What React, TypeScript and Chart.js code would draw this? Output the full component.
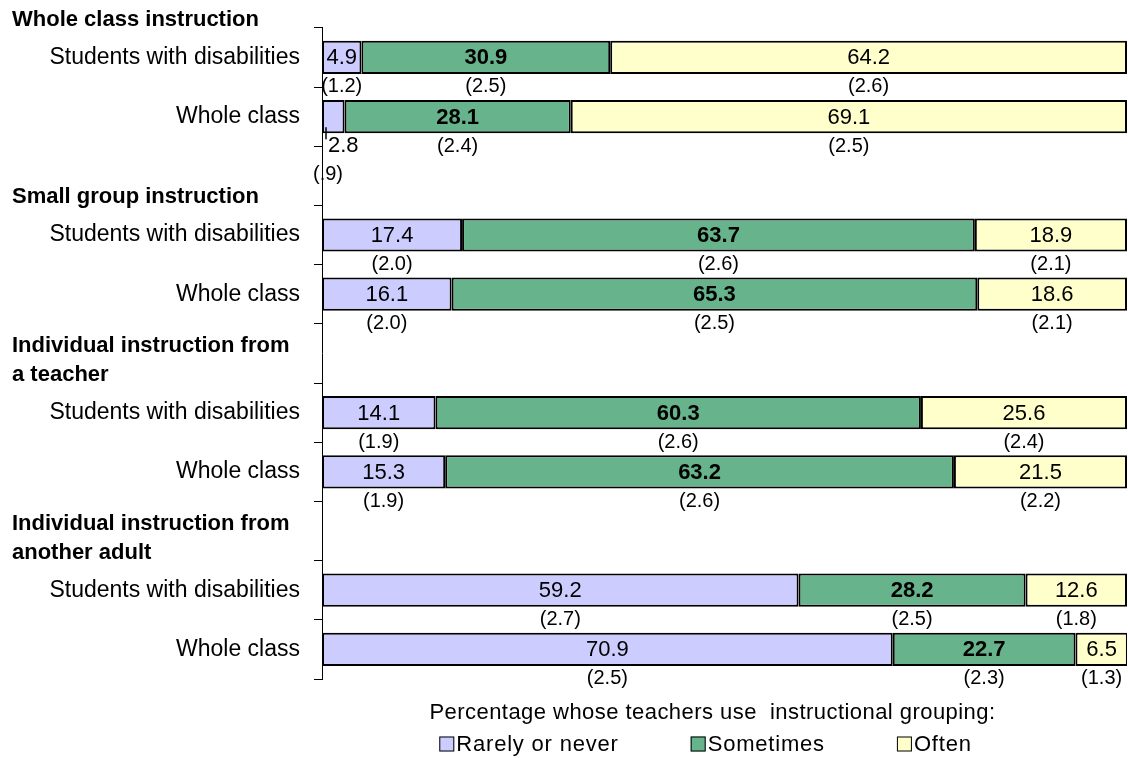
import React, { useEffect, useRef } from "react";
import { Chart, registerables } from "chart.js";

Chart.register(...registerables);

const rowLabels = [
  "Students with disabilities",
  "Whole class",
  "",
  "Students with disabilities",
  "Whole class",
  "",
  "Students with disabilities",
  "Whole class",
  "",
  "Students with disabilities",
  "Whole class",
];

const headerTexts = [
  ["Whole class instruction"],
  ["Small group instruction"],
  ["Individual instruction from", "a teacher"],
  ["Individual instruction from", "another adult"],
];
const headerSlots = [-1, 2, 5, 8];

const seriesNames = ["Rarely or never", "Sometimes", "Often"];
const rarely = [4.9, 2.8, null, 17.4, 16.1, null, 14.1, 15.3, null, 59.2, 70.9];
const sometimes = [30.9, 28.1, null, 63.7, 65.3, null, 60.3, 63.2, null, 28.2, 22.7];
const often = [64.2, 69.1, null, 18.9, 18.6, null, 25.6, 21.5, null, 12.6, 6.5];

const seRarely = ["1.2", ".9", null, "2.0", "2.0", null, "1.9", "1.9", null, "2.7", "2.5"];
const seSometimes = ["2.5", "2.4", null, "2.6", "2.5", null, "2.6", "2.6", null, "2.5", "2.3"];
const seOften = ["2.6", "2.5", null, "2.1", "2.1", null, "2.4", "2.2", null, "1.8", "1.3"];

const legendTitle = "Percentage whose teachers use  instructional grouping:";
const seriesColors = ["#CCCCFF", "#66B38C", "#FFFFCC"];

const FONT = '"Liberation Sans", Arial, sans-serif';

const seSeries = [seRarely, seSometimes, seOften];

const segLabelPlugin = {
  id: "segLabels",
  afterDatasetsDraw(chart: any) {
    const ctx = chart.ctx;
    chart.data.datasets.forEach((ds: any, di: number) => {
      const meta = chart.getDatasetMeta(di);
      meta.data.forEach((el: any, j: number) => {
        const v = ds.data[j];
        if (v == null) return;
        const { x, y, base, height } = el.getProps(["x", "y", "base", "height"], true);
        const left = Math.min(x, base);
        const right = Math.max(x, base);
        const w = right - left;
        const bottom = y + height / 2;
        const bold = di === 1;
        const txt = v.toFixed(1);
        const se = seSeries[di][j];
        ctx.save();
        ctx.fillStyle = "#000";
        ctx.textBaseline = "middle";
        ctx.font = `${bold ? "bold " : ""}22px ${FONT}`;
        const tw = ctx.measureText(txt).width;
        if (tw + 4 <= w) {
          ctx.textAlign = "center";
          ctx.fillText(txt, (left + right) / 2, y + 1);
          if (se) {
            ctx.font = `20px ${FONT}`;
            ctx.fillText(`(${se})`, (left + right) / 2, bottom + 13);
          }
        } else {
          ctx.strokeStyle = "#000";
          ctx.lineWidth = 1.5;
          ctx.beginPath();
          ctx.moveTo(left + 4, bottom - 6);
          ctx.lineTo(left + 4, bottom + 6);
          ctx.stroke();
          ctx.textAlign = "left";
          ctx.fillText(txt, left + 6, bottom + 13);
          if (se) {
            ctx.textAlign = "center";
            ctx.font = `20px ${FONT}`;
            ctx.fillText(`(${se})`, left + 6, bottom + 41);
          }
        }
        ctx.restore();
      });
    });
  },
};

const headerPlugin = {
  id: "groupHeaders",
  afterDraw(chart: any) {
    const ctx = chart.ctx;
    const ys = chart.scales.y;
    ctx.save();
    ctx.fillStyle = "#000";
    ctx.font = `bold 22px ${FONT}`;
    ctx.textAlign = "left";
    ctx.textBaseline = "alphabetic";
    headerTexts.forEach((lines, i) => {
      const s = headerSlots[i];
      const boundary = (ys.getPixelForValue(s) + ys.getPixelForValue(s + 1)) / 2;
      const n = lines.length;
      lines.forEach((line, k) => {
        ctx.fillText(line, 12, boundary - 2 - (n - 1 - k) * 29);
      });
    });
    ctx.restore();
  },
};

const legendPlugin = {
  id: "customLegend",
  afterDraw(chart: any) {
    const ctx = chart.ctx;
    const area = chart.chartArea;
    const cx = (area.left + area.right) / 2 - 12;
    ctx.save();
    ctx.fillStyle = "#000";
    ctx.textBaseline = "alphabetic";
    ctx.textAlign = "center";
    ctx.font = `22px ${FONT}`;
    (ctx as any).letterSpacing = "0.45px";
    ctx.fillText(legendTitle, cx, area.bottom + 40);
    const box = 15;
    const gapText = 2;
    const gapItem = 72;
    (ctx as any).letterSpacing = "0.8px";
    const widths = seriesNames.map((n) => box + gapText + ctx.measureText(n).width);
    const total = widths.reduce((a, b) => a + b, 0) + gapItem * (widths.length - 1);
    let x = cx - 7 - total / 2;
    const midY = area.bottom + 65;
    ctx.textAlign = "left";
    ctx.textBaseline = "middle";
    seriesNames.forEach((n, i) => {
      ctx.fillStyle = seriesColors[i];
      ctx.fillRect(x, midY - box / 2, box, box);
      ctx.strokeStyle = "#000";
      ctx.lineWidth = 1;
      ctx.strokeRect(x + 0.5, midY - box / 2 + 0.5, box - 1, box - 1);
      ctx.fillStyle = "#000";
      ctx.fillText(n, x + box + gapText, midY + 1);
      x += widths[i] + gapItem;
    });
    ctx.restore();
  },
};

export default function App() {
  const ref = useRef<HTMLCanvasElement | null>(null);
  useEffect(() => {
    if (!ref.current) return;
    const seriesData = [rarely, sometimes, often];
    const chart = new Chart(ref.current, {
      type: "bar",
      data: {
        labels: rowLabels,
        datasets: seriesNames.map((name, i) => ({
          label: name,
          data: seriesData[i],
          backgroundColor: seriesColors[i],
          borderColor: "#000",
          borderWidth: 2,
          borderSkipped: false,
          barPercentage: 0.56,
          categoryPercentage: 1,
        })),
      },
      options: {
        indexAxis: "y",
        animation: false,
        responsive: true,
        maintainAspectRatio: false,
        layout: { padding: { top: 27, bottom: 79, left: 0, right: 1 } },
        plugins: {
          legend: { display: false },
          tooltip: { enabled: false },
        },
        scales: {
          x: { display: false, stacked: true, min: 0, max: 100 },
          y: {
            stacked: true,
            grid: {
              offset: true,
              drawOnChartArea: false,
              drawTicks: true,
              tickLength: 8,
              color: "#000",
              lineWidth: 1,
            },
            border: { display: true, color: "#000", width: 1 },
            ticks: {
              color: "#000",
              autoSkip: false,
              padding: 14,
              font: { size: 23, family: FONT },
            },
            afterFit: (s: any) => {
              s.width = 322;
            },
          },
        },
      },
      plugins: [segLabelPlugin, headerPlugin, legendPlugin],
    } as any);
    return () => chart.destroy();
  }, []);
  return (
    <div style={{ position: "absolute", left: 0, top: 0, width: 1128, height: 758, background: "#fff" }}>
      <canvas ref={ref} />
    </div>
  );
}
